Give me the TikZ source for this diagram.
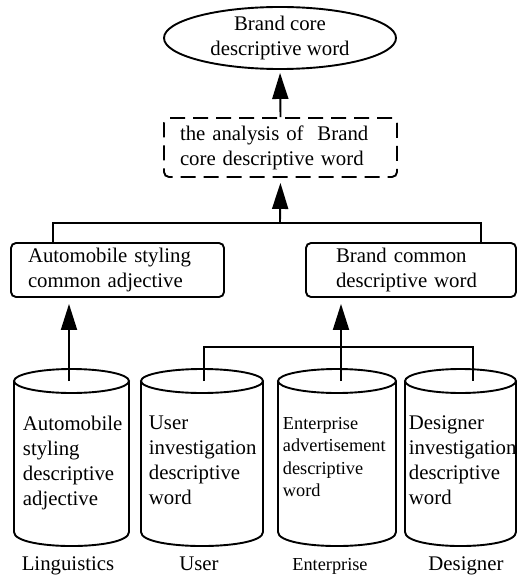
\documentclass[tikz,border=0pt]{standalone}
\usepackage{fontspec}
\setmainfont{Liberation Serif}
\usetikzlibrary{arrows.meta,shapes.geometric}
\newcommand\mycyl[2]{%
  \draw ({(#1+#2)/2},381) ellipse [x radius={(#2-#1)/2}, y radius=12];
  \draw (#1,381) -- (#1,532) .. controls (#1,550.7) and (#2,550.7) .. (#2,532) -- (#2,381);}
\begin{document}
\begin{tikzpicture}[x=1pt,y=-1pt,line width=1.9pt,
  every node/.style={font=\fontsize{20.8}{25}\selectfont, inner sep=0pt},
  smallfont/.style={font=\fontsize{18.3}{22.5}\selectfont},
  arr/.style={-{Triangle[length=26pt,width=16pt]}},
  box/.style={draw, rounded corners=5pt, align=left, minimum height=54pt},
  lab/.style={anchor=base},
  cyltext/.style={anchor=north west, align=left}]
\useasboundingbox (0,0) rectangle (518,577);

% top
\node[draw, ellipse, minimum width=232pt, minimum height=60pt, align=center] (core) at (280,38) {Brand core\\descriptive word};
\node[draw, dash pattern=on 15pt off 8pt, rounded corners=5pt, align=left, text width=201pt, inner xsep=16pt, minimum height=59pt] (ana) at (280.5,147.5) {the analysis of~ Brand\\core descriptive word};

% middle boxes
\node[box, text width=179pt, inner xsep=17pt] (left) at (117.5,270) {Automobile styling\\common adjective};
\node[box, text width=150pt, inner xsep=30pt] (right) at (411,270) {Brand common\\descriptive word};

% cylinders
\mycyl{14}{129}
\mycyl{141}{263}
\mycyl{278}{396}
\mycyl{405}{516}

\node[cyltext] (t1) at (22,415) {Automobile\\styling\\descriptive\\adjective};
\node[cyltext] (t2) at (148,415) {User\\investigation\\descriptive\\word};
\node[cyltext, smallfont] (t3) at (282,416) {Enterprise\\advertisement\\descriptive\\word};
\node[cyltext] (t4) at (408,415) {Designer\\investigation\\descriptive\\word};

% labels
\node[lab] (l1) at (68,570) {Linguistics};
\node[lab] (l2) at (199,570) {User};
\node[lab, smallfont] (l3) at (330,570) {Enterprise};
\node[lab] (l4) at (466,570) {Designer};

% coordinates
\coordinate (b1) at (280,223);
\coordinate (lj) at (53,223);
\coordinate (rj) at (481,223);
\coordinate (c1) at (69,381);
\coordinate (c2) at (204,381);
\coordinate (c3) at (341,381);
\coordinate (c4) at (473,381);
\coordinate (m3) at (341,347);

% connectors
\draw[arr, shorten >=3pt] (ana.north) -- (core.south);
\draw (lj |- left.north) -- (lj) -- (rj) -- (rj |- right.north);
\draw[arr, shorten >=5pt] (b1) -- (ana.south);
\draw[arr, shorten >=6pt] (c1) -- (c1 |- left.south);
\draw (c2) |- (m3) -| (c4);
\draw[arr, shorten >=6pt] (c3) -- (c3 |- right.south);
\end{tikzpicture}
\end{document}
